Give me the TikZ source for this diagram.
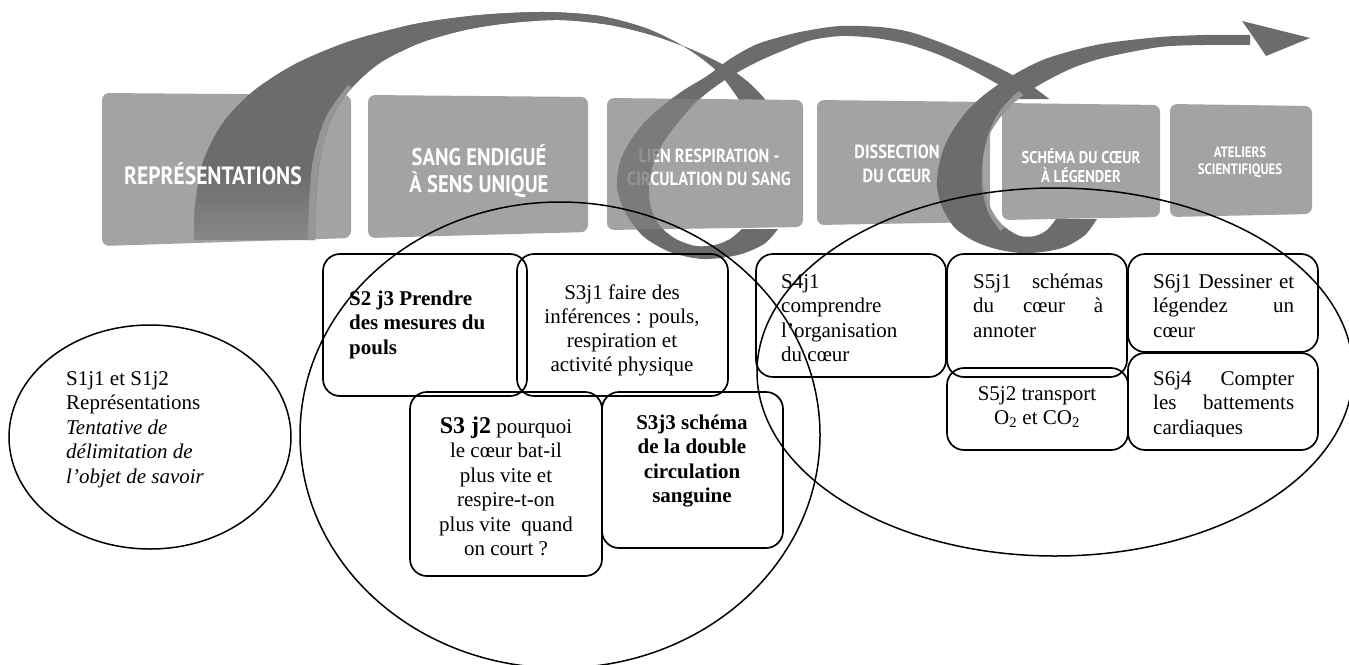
\documentclass[tikz,border=0pt]{standalone}
\usepackage{fontspec}
\setmainfont{Liberation Serif}
\newfontfamily\bannerfont[FakeStretch=0.86]{PT Sans}
\usetikzlibrary{shapes.geometric}
\definecolor{boxg}{RGB}{163,163,163}
\definecolor{rib}{RGB}{108,108,108}
\definecolor{ribL}{RGB}{150,150,150}
\begin{document}
\begin{tikzpicture}[x=1pt,y=-1pt,
  sbox/.style={draw=black, line width=1.7pt, rounded corners=17pt, inner sep=0pt},
  ell/.style={draw=black, line width=1.5pt, ellipse, inner sep=0pt},
  tx/.style={inner sep=0pt, font=\fontsize{21}{24.5}\selectfont},
  ban/.style={inner sep=0pt, text=white, font=\bannerfont\bfseries},
  bshape/.style={fill=boxg, rounded corners=7pt}]
\useasboundingbox (0,0) rectangle (1349,664);
\fill[white] (0,0) rectangle (1349,664);
\clip (0,0) rectangle (1349,664);

\def\ArcA{plot[smooth] coordinates {(194,240) (195,205) (203,162) (222,124) (252,92) (295,64) (350,41) (415,24) (480,15) (545,12) (600,16) (648,29) (688,49) (718,72) (738,98) (745,112)} -- plot[smooth] coordinates {(775,112) (762,96) (748,82) (727,67) (695,51) (655,36) (610,25) (560,20) (510,23) (465,30) (420,43) (380,63) (350,90) (330,122) (320,160) (316,205) (315,240)} -- cycle}
\def\Cone{plot[smooth] coordinates {(778,229) (764,244) (738,255) (703,259) (670,252) (643,236) (625,212) (617,187) (620,162) (629,143) (643,124) (661,107) (684,90) (707,76) (730,59) (755,45) (780,37) (805,31) (840,26) (880,27) (910,32) (942,43) (973,56) (1003,70) (1030,85) (1048,98) (1056,105)} -- plot[smooth] coordinates {(1026,105) (1012,93) (994,82) (966,67) (937,54) (907,44) (875,38) (842,36) (812,40) (787,49) (757,62) (728,78) (702,97) (680,120) (663,143) (653,165) (649,188) (651,208) (660,226) (676,239) (696,246) (715,245) (730,239) (742,229)} -- cycle}
\def\Ctwo{plot[smooth] coordinates {(1097,219) (1085,235) (1065,247) (1042,252) (1020,253) (996,249) (974,241) (955,228) (943,209) (937,187) (939,165) (945,145) (955,127) (968,110) (984,95) (1002,82) (1022,70) (1045,59) (1075,50) (1107,43) (1160,37) (1205,35) (1250,35)} -- plot[smooth] coordinates {(1250,45) (1205,45) (1160,47) (1107,57) (1075,67) (1048,80) (1028,92) (1011,105) (998,120) (989,135) (984,152) (982,170) (984,190) (990,207) (997,219) (1006,228) (1020,236) (1035,236) (1047,230) (1056,219)} -- cycle}

% banner box 1 and first arc
\fill[bshape] (102,93) -- (351,95) -- (351,238) -- (102,246) -- cycle;
\begin{scope}
  \clip \ArcA;
  \fill[rib] (150,0) rectangle (800,170);
  \fill[rib] (400,0) rectangle (800,250);
  \shade[top color=rib, bottom color=rib!45!boxg] (150,170) rectangle (400,246);
  \draw[ribL, line width=10pt] plot[smooth] coordinates {(352,88) (330,120) (318,160) (314,205) (313,245)};
\end{scope}

% other banner boxes
\fill[bshape] (368,95) -- (588,97) -- (588,232) -- (368,238) -- cycle;
\fill[bshape] (607,98) -- (803,100) -- (803,227) -- (607,230) -- cycle;
\fill[bshape] (817,100) -- (990,102) -- (990,222) -- (817,225) -- cycle;
\fill[bshape] (1002,103) -- (1160,105) -- (1160,217) -- (1002,220) -- cycle;
\fill[bshape] (1170,104) -- (1312,106) -- (1312,214) -- (1170,217) -- cycle;

% banner texts
\node[ban, anchor=base] (b1) at (213,184) {\fontsize{25}{28}\selectfont REPRÉSENTATIONS};
\node[ban, anchor=base] (b2) at (479,165) {\parbox[t]{200pt}{\centering\fontsize{24}{27}\selectfont SANG ENDIGUÉ\\À SENS UNIQUE}};
\node[ban, anchor=base] (b3) at (709,162) {\parbox[t]{210pt}{\centering\fontsize{19}{23}\selectfont LIEN RESPIRATION -\\CIRCULATION DU SANG}};
\node[ban, anchor=base] (b4) at (897,158) {\parbox[t]{160pt}{\centering\fontsize{19}{24}\selectfont DISSECTION\\DU CŒUR}};
\node[ban, anchor=base] (b5) at (1081,163) {\parbox[t]{150pt}{\centering\fontsize{17}{19.5}\selectfont SCHÉMA DU CŒUR\\À LÉGENDER}};
\node[ban, anchor=base] (b6) at (1240,157) {\parbox[t]{140pt}{\centering\fontsize{15}{17}\selectfont ATELIERS\\SCIENTIFIQUES}};

% first loop (outside box 3: opaque; inside: translucent)
\begin{scope}
  \clip (0,0) rectangle (1349,99) (0,229) rectangle (1349,664);
  \fill[rib] \Cone;
\end{scope}
\begin{scope}
  \clip (600,99) rectangle (810,229);
  \fill[rib, fill opacity=0.72] \Cone;
  \begin{scope}
    \clip \Cone;
    \draw[ribL, line width=9pt, draw opacity=0.72] plot[smooth] coordinates {(725,84) (698,106) (677,132) (662,160) (656,190) (660,215) (672,232)};
  \end{scope}
\end{scope}

% second loop and arrow
\begin{scope}
  \clip \Ctwo;
  \fill[rib] (900,0) rectangle (1300,300);
  \draw[ribL, line width=9pt] plot[smooth] coordinates {(1022,94) (1003,114) (992,137) (987,162) (987,190) (993,212) (1004,228)};
\end{scope}
\fill[rib] (1242,21) -- (1310,38) -- (1266,56) -- (1256,41) -- cycle;

% session boxes
\node[sbox, minimum width=204pt, minimum height=142pt] (s2) at (425,325) {};
\node[sbox, minimum width=211pt, minimum height=142pt] (s31) at (622.5,325) {};
\node[sbox, minimum width=192pt, minimum height=184pt] (s32) at (506,484) {};
\node[sbox, minimum width=181pt, minimum height=156pt] (s33) at (692.5,470) {};
\node[sbox, minimum width=190pt, minimum height=123pt] (s4) at (851,315.5) {};
\node[sbox, minimum width=180pt, minimum height=123pt] (s51) at (1037,315.5) {};
\node[sbox, minimum width=181pt, minimum height=82pt] (s52) at (1037.5,409) {};
\node[sbox, minimum width=190pt, minimum height=98pt] (s61) at (1223,303) {};
\node[sbox, minimum width=190pt, minimum height=97pt] (s64) at (1223,401.5) {};

% texts
\node[tx, anchor=base west] (t1) at (66,385) {\parbox[t]{210pt}{S1j1 et S1j2\\Représentations\\\textit{Tentative de}\\\textit{délimitation de}\\\textit{l’objet de savoir}}};
\node[tx, anchor=base west] (t2) at (349,305) {\parbox[t]{170pt}{\bfseries S2 j3 Prendre\\des mesures du\\pouls}};
\node[tx, anchor=base] (t3) at (622,299) {\parbox[t]{200pt}{\centering\baselineskip=24pt S3j1 faire des\\inférences : pouls,\\respiration et\\activité physique}};
\node[tx, anchor=base] (t4) at (506,433) {\parbox[t]{190pt}{\centering{\fontsize{24}{24.5}\selectfont\bfseries S3 j2} pourquoi\\le cœur bat-il\\plus vite et\\respire-t-on\\plus vite\ \ quand\\on court ?}};
\node[tx, anchor=base] (t5) at (692,429) {\parbox[t]{180pt}{\centering\bfseries S3j3 schéma\\de la double\\circulation\\sanguine}};
\node[tx, anchor=base west] (t6) at (781,288) {\parbox[t]{160pt}{S4j1\\comprendre\\l’organisation\\du cœur}};
\node[tx, anchor=base west] (t7) at (973,288) {\parbox[t]{130pt}{\makebox[130pt][s]{S5j1 schémas}\\\makebox[130pt][s]{du cœur à}\\annoter}};
\node[tx, anchor=base] (t8) at (1037,400) {\parbox[t]{170pt}{\centering S5j2 transport\\O\textsubscript{2} et CO\textsubscript{2}}};
\node[tx, anchor=base west] (t9) at (1153,288) {\parbox[t]{141pt}{\makebox[141pt][s]{S6j1 Dessiner et}\\\makebox[141pt][s]{légendez un}\\cœur}};
\begin{scope}
  \clip (1130,355) rectangle (1316,436);
  \node[tx, anchor=base west] (t10) at (1153,385) {\parbox[t]{141pt}{\makebox[141pt][s]{S6j4 Compter}\\\makebox[141pt][s]{les battements}\\cardiaques}};
\end{scope}

% ellipses
\node[ell, minimum width=282pt, minimum height=224pt] (e0) at (150,437) {};
\node[ell, minimum width=520pt, minimum height=466pt] (e1) at (560,435) {};
\node[ell, minimum width=596pt, minimum height=368pt] (e2) at (1055,372) {};
\end{tikzpicture}
\end{document}
